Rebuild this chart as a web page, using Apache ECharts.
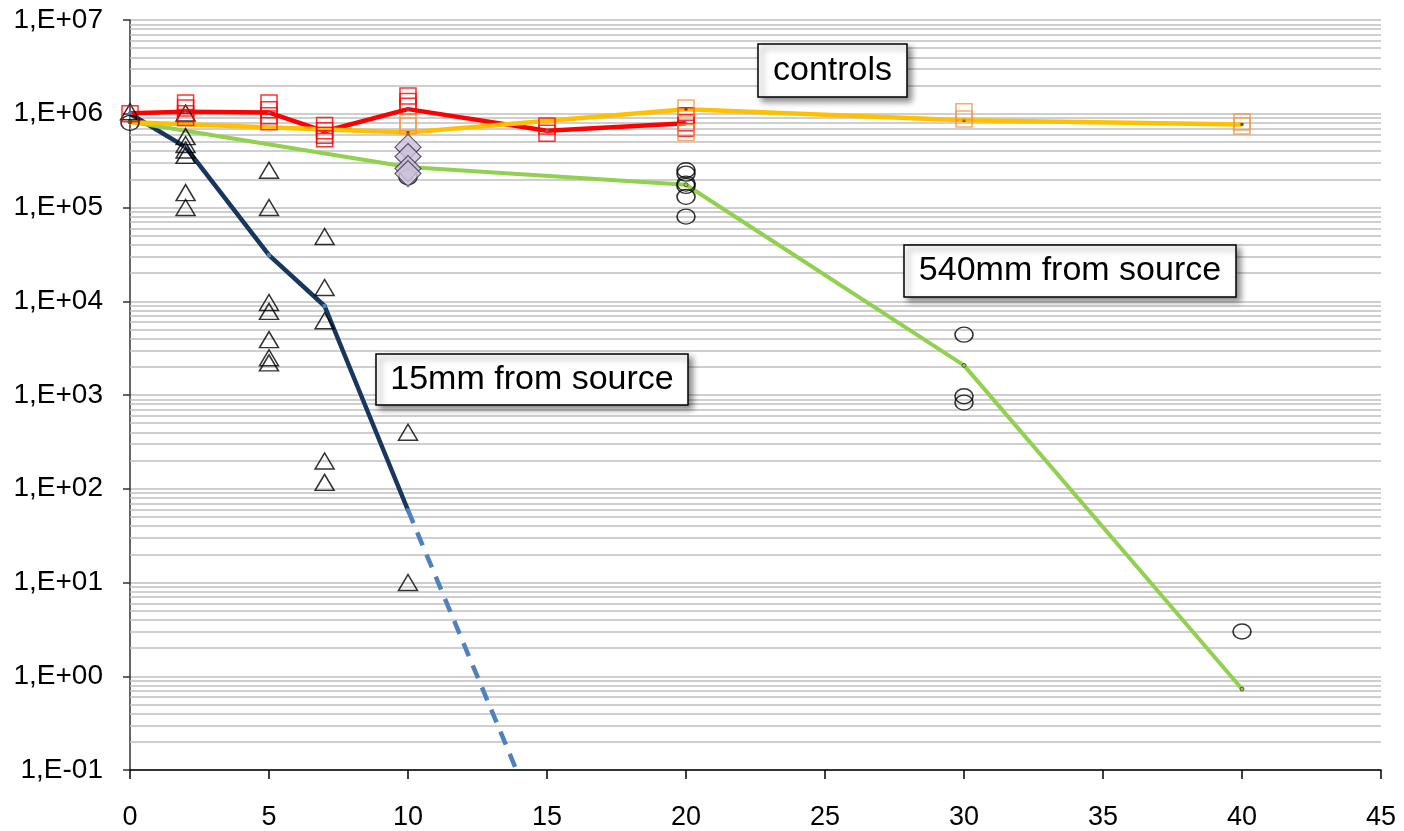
<!DOCTYPE html>
<html>
<head>
<meta charset="utf-8">
<script src="https://cdn.jsdelivr.net/npm/echarts@6/dist/echarts.min.js"></script>
<style>
html,body{margin:0;padding:0;background:#fff;}
#chart{width:1404px;height:831px;}
</style>
</head>
<body>
<div id="chart"></div>
<script>
// ---- data ----
const yTickLabels = ['1,E-01','1,E+00','1,E+01','1,E+02','1,E+03','1,E+04','1,E+05','1,E+06','1,E+07'];
const yTickExponents = [-1,0,1,2,3,4,5,6,7];

const triangles15 = [[0,1.05e6],[2,1.02e6],[2,5.7e5],[2,4.7e5],[2,4.1e5],[2,3.6e5],[2,1.44e5],[2,1.0e5],
  [5,2.5e5],[5,1.0e5],[5,9.7e3],[5,7.8e3],[5,3.9e3],[5,2.5e3],[5,2.2e3],
  [7,4.9e4],[7,1.4e4],[7,6.2e3],[7,198],[7,117],[10,400],[10,10]];
const mean15 = [[0,1.0e6],[2,4.4e5],[5,3.1e4],[7,8.9e3],[10,59]];
const extrap15 = [[10,59],[13.9,0.1]];

const circles540 = [[0,8.0e5],[10,2.1e5],[20,2.5e5],[20,2.3e5],[20,1.8e5],[20,1.7e5],[20,1.3e5],[20,8.0e4],
  [30,4.4e3],[30,970],[30,830],[40,3]];
const mean540 = [[0,8.2e5],[10,2.7e5],[20,1.75e5],[30,2.07e3],[40,0.73]];

const controlsRed = [[0,1.01e6],[2,1.05e6],[5,1.03e6],[7,6.5e5],[10,1.12e6],[15,6.6e5],[20,7.9e5]];
const redSquares = [[0,1.0e6],[2,1.3e6],[2,1.15e6],[2,1.0e6],[2,9.1e5],[5,1.3e6],[5,1.1e6],[5,9.5e5],[5,8.2e5],
  [7,7.5e5],[7,6.6e5],[7,5.9e5],[7,5.4e5],[10,1.55e6],[10,1.35e6],[10,1.2e6],[15,7.4e5],[15,6.2e5],
  [20,9.5e5],[20,8.0e5],[20,7.0e5]];
const controlsOrange = [[0,8.1e5],[10,6.3e5],[20,1.12e6],[30,8.5e5],[40,7.7e5]];
const orangeSquares = [[10,8.1e5],[10,7.4e5],[20,1.15e6],[20,6.3e5],[30,1.05e6],[30,8.8e5],[40,8.2e5],[40,7.4e5]];
const diamonds = [[10,4.4e5],[10,3.5e5],[10,2.6e5],[10,2.3e5]];

const minorMultipliers = [2,3,4,5,6,7,8,9];
const minorDecades = [-1,0,1,2,3,4,5,6];

// ---- build ----
const minorLines = [];
minorDecades.forEach(k => minorMultipliers.forEach(m => minorLines.push({yAxis: m * Math.pow(10, k)})));

const FONT = "'Liberation Sans', Arial, sans-serif";
const gridColor = '#bfbfbf';

const chart = echarts.init(document.getElementById('chart'), null, {renderer: 'canvas'});

function box(x, y, w, h, text) {
  return {
    type: 'group',
    z: 100,
    children: [
      {type: 'rect', z: 100, shape: {x: x, y: y, width: w, height: h},
       style: {fill: '#fff', stroke: '#000', lineWidth: 1.5,
               shadowBlur: 6, shadowOffsetX: 4, shadowOffsetY: 4, shadowColor: 'rgba(0,0,0,0.45)'}},
      {type: 'text', z: 101, x: x + w / 2, y: y + h / 2,
       style: {text: text, font: '34px ' + FONT, fill: '#000', textAlign: 'center', textVerticalAlign: 'middle',
               align: 'center', verticalAlign: 'middle'}}
    ]
  };
}

const option = {
  animation: false,
  backgroundColor: '#fff',
  grid: {left: 130, right: 23, top: 20, bottom: 60, containLabel: false},
  xAxis: {
    type: 'value', min: 0, max: 45, interval: 5,
    axisLine: {show: true, onZero: false, lineStyle: {color: '#000', width: 1.5}},
    axisTick: {show: true, inside: false, length: 9, lineStyle: {color: '#000', width: 1.5}},
    axisLabel: {color: '#000', fontSize: 27, fontFamily: FONT, margin: 34},
    splitLine: {show: false}
  },
  yAxis: {
    type: 'log', logBase: 10, min: 0.1, max: 1e7, splitNumber: 8,
    axisLine: {show: true, lineStyle: {color: '#333', width: 1.5}},
    axisTick: {show: true, inside: false, length: 7, lineStyle: {color: '#333', width: 1.5}},
    axisLabel: {color: '#000', fontSize: 28, fontFamily: FONT, margin: 27,
      formatter: function (v) {
        const e = Math.round(Math.log10(v));
        const i = yTickExponents.indexOf(e);
        return i >= 0 ? yTickLabels[i] : '';
      }},
    splitLine: {show: true, lineStyle: {color: gridColor, width: 1.6}},
    minorTick: {show: false},
    minorSplitLine: {show: false}
  },
  series: [
    {
      name: 'grid', type: 'line', data: [], silent: true, z: 1,
      markLine: {silent: true, symbol: 'none', z: 1, animation: false,
        label: {show: false},
        lineStyle: {color: gridColor, width: 1.6, type: 'solid'},
        emphasis: {disabled: true},
        data: minorLines}
    },
    {name: 'mean 15mm', type: 'line', data: mean15, z: 3,
     lineStyle: {color: '#17375e', width: 4.5}, symbol: 'rect', symbolSize: 4,
     itemStyle: {color: '#4f81bd'}, showSymbol: true},
    {name: 'extrapolation', type: 'line', data: extrap15, z: 3,
     lineStyle: {color: '#4f81bd', width: 4.5, type: [14, 10]}, symbol: 'none'},
    {name: 'mean 540mm', type: 'line', data: mean540, z: 3,
     lineStyle: {color: '#92d050', width: 4}, symbol: 'circle', symbolSize: 4,
     itemStyle: {color: '#92d050', borderColor: '#4f6228', borderWidth: 1}},
    {name: 'controls red', type: 'line', data: controlsRed, z: 3,
     lineStyle: {color: '#ff0000', width: 4.5}, symbol: 'circle', symbolSize: 3,
     itemStyle: {color: '#8064a2'}},
    {name: 'controls orange', type: 'line', data: controlsOrange, z: 3,
     lineStyle: {color: '#ffc000', width: 4.5}, symbol: 'rect', symbolSize: 3,
     itemStyle: {color: '#7f3f00'}},
    {name: '15mm', type: 'scatter', data: triangles15, z: 4,
     symbol: 'triangle', symbolSize: [19, 16],
     itemStyle: {color: 'rgba(255,255,255,0)', borderColor: '#000', borderWidth: 1.5}},
    {name: '540mm', type: 'scatter', data: circles540, z: 4,
     symbol: 'circle', symbolSize: [18, 15],
     itemStyle: {color: 'rgba(255,255,255,0)', borderColor: '#000', borderWidth: 1.5}},
    {name: 'red squares', type: 'scatter', data: redSquares, z: 4,
     symbol: 'rect', symbolSize: 16,
     itemStyle: {color: 'rgba(255,255,255,0)', borderColor: '#ff0000', borderWidth: 1.5}},
    {name: 'orange squares', type: 'scatter', data: orangeSquares, z: 4,
     symbol: 'rect', symbolSize: 16,
     itemStyle: {color: 'rgba(255,255,255,0)', borderColor: '#f79646', borderWidth: 1.6}},
    {name: 'diamonds', type: 'scatter', data: diamonds, z: 5,
     symbol: 'diamond', symbolSize: [26, 26],
     itemStyle: {color: '#ccc1da', borderColor: '#403152', borderWidth: 1.2}}
  ],
  graphic: [
    box(758, 44, 149, 53, 'controls'),
    box(904, 245, 332, 52, '540mm from source'),
    box(376, 354, 312, 51, '15mm from source')
  ]
};
chart.setOption(option);
</script>
</body>
</html>
